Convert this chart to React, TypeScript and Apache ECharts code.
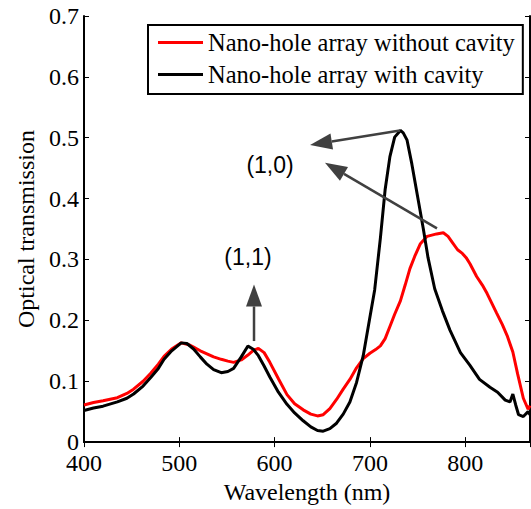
import React, { useEffect, useRef } from "react";
import * as echarts from "echarts";

// Wavelength (nm) and optical transmission
const redWavelength = [400, 410, 420, 435, 445, 452, 462, 470, 478, 484, 492, 502, 510, 515, 522, 529, 536, 544, 551, 557, 565, 572, 578, 583, 589, 595, 604, 613, 621, 630, 638, 645, 651, 658, 665, 672, 679, 686, 693, 700, 706, 711, 716, 721, 726, 732, 737, 742, 747, 753, 760, 765, 770, 777, 782, 787, 792, 797, 801, 805, 812, 818, 823, 828, 833, 839, 844, 850, 855, 861, 866, 868];
const redValues = [0.061, 0.065, 0.068, 0.073, 0.080, 0.087, 0.100, 0.113, 0.128, 0.141, 0.153, 0.163, 0.160, 0.156, 0.150, 0.145, 0.140, 0.136, 0.133, 0.131, 0.135, 0.143, 0.151, 0.154, 0.147, 0.131, 0.104, 0.078, 0.063, 0.053, 0.046, 0.043, 0.045, 0.055, 0.070, 0.087, 0.103, 0.122, 0.137, 0.146, 0.152, 0.158, 0.170, 0.190, 0.210, 0.232, 0.258, 0.285, 0.305, 0.326, 0.338, 0.340, 0.342, 0.344, 0.338, 0.327, 0.316, 0.310, 0.303, 0.293, 0.272, 0.258, 0.244, 0.228, 0.212, 0.193, 0.175, 0.148, 0.112, 0.072, 0.054, 0.060];

const blackWavelength = [400, 410, 420, 435, 445, 452, 462, 470, 478, 484, 492, 502, 508, 515, 522, 529, 536, 544, 551, 557, 565, 572, 578, 583, 589, 595, 604, 613, 621, 630, 638, 645, 651, 658, 665, 672, 679, 686, 693, 700, 705, 711, 716, 721, 726, 732, 735, 739, 744, 750, 756, 761, 768, 776, 784, 795, 805, 815, 826, 834, 842, 847, 850, 853, 856, 861, 866, 868];
const blackValues = [0.052, 0.056, 0.059, 0.066, 0.072, 0.079, 0.092, 0.106, 0.121, 0.136, 0.150, 0.163, 0.162, 0.153, 0.140, 0.128, 0.119, 0.114, 0.116, 0.121, 0.140, 0.158, 0.152, 0.142, 0.125, 0.107, 0.082, 0.062, 0.048, 0.035, 0.025, 0.019, 0.018, 0.022, 0.031, 0.046, 0.066, 0.098, 0.142, 0.205, 0.250, 0.335, 0.415, 0.469, 0.501, 0.512, 0.508, 0.496, 0.457, 0.404, 0.351, 0.303, 0.252, 0.216, 0.184, 0.147, 0.126, 0.103, 0.090, 0.082, 0.069, 0.066, 0.079, 0.061, 0.045, 0.042, 0.050, 0.045];

const seriesNames = ["Nano-hole array without cavity", "Nano-hole array with cavity"];

// Annotation arrows in data coordinates: [start, tip]
const arrowStarts = [[731.6, 0.512], [770.4, 0.351], [578.4, 0.166]];
const arrowTips = [[637.2, 0.488], [652.9, 0.459], [578.4, 0.259]];
const labelTexts = ["(1,0)", "(1,1)"];
const labelPositions = [[595.2, 0.455], [572.1, 0.304]];

const SERIF = "'Liberation Serif', 'Times New Roman', serif";

export default function App() {
  const ref = useRef<HTMLDivElement>(null);
  useEffect(() => {
    const chart = echarts.init(ref.current!, undefined, { renderer: "svg" });
    const axisCommon = {
      axisLine: { lineStyle: { color: "#000", width: 2 } },
      axisTick: { inside: true, length: 5, lineStyle: { color: "#000", width: 1 } },
      splitLine: { show: false },
    };
    chart.setOption({
      animation: false,
      backgroundColor: "#fff",
      grid: { left: 84, right: 1, top: 16, bottom: 57, containLabel: false },
      xAxis: [
        {
          type: "value",
          min: 400,
          max: 868,
          interval: 100,
          name: "Wavelength (nm)",
          nameLocation: "middle",
          nameGap: 36,
          nameTextStyle: { fontFamily: SERIF, fontSize: 24, color: "#000" },
          ...axisCommon,
          axisLabel: {
            margin: 9,
            fontFamily: SERIF,
            fontSize: 24,
            color: "#000",
            showMaxLabel: false,
            formatter: (v: number) => (v % 100 === 0 ? String(v) : ""),
          },
        },
        {
          type: "value",
          position: "top",
          min: 400,
          max: 868,
          interval: 100,
          ...axisCommon,
          axisLabel: { show: false },
        },
      ],
      yAxis: [
        {
          type: "value",
          min: 0,
          max: 0.7,
          interval: 0.1,
          name: "Optical transmission",
          nameLocation: "middle",
          nameGap: 45,
          nameTextStyle: { fontFamily: SERIF, fontSize: 24, color: "#000" },
          ...axisCommon,
          axisLabel: {
            margin: 5,
            fontFamily: SERIF,
            fontSize: 24,
            lineHeight: 16,
            color: "#000",
            formatter: (v: number) => (v === 0 ? "0" : v.toFixed(1)),
          },
        },
        {
          type: "value",
          position: "right",
          min: 0,
          max: 0.7,
          interval: 0.1,
          ...axisCommon,
          axisLabel: { show: false },
        },
      ],
      legend: {
        orient: "vertical",
        left: 148,
        top: 25,
        backgroundColor: "#fff",
        borderColor: "#000",
        borderWidth: 2,
        borderRadius: 0,
        padding: [5, 8, 7, 10],
        itemGap: 7,
        itemWidth: 45,
        itemHeight: 3,
        icon: "rect",
        textStyle: { fontFamily: SERIF, fontSize: 24.5, color: "#000", lineHeight: 24 },
        data: seriesNames,
      },
      series: [
        {
          name: seriesNames[0],
          type: "line",
          showSymbol: false,
          symbol: "none",
          color: "#ff0000",
          lineStyle: { color: "#ff0000", width: 3 },
          data: redWavelength.map((w, i) => [w, redValues[i]]),
          z: 3,
        },
        {
          name: seriesNames[1],
          type: "line",
          showSymbol: false,
          symbol: "none",
          color: "#000000",
          lineStyle: { color: "#000000", width: 3 },
          data: blackWavelength.map((w, i) => [w, blackValues[i]]),
          z: 4,
        },
      ],
    });

    const toPx = (p: number[]) => chart.convertToPixel({ gridIndex: 0 }, p) as number[];
    const graphics: any[] = [];
    const arrowColor = "#404040";
    arrowStarts.forEach((s, i) => {
      const S = toPx(s);
      const T = toPx(arrowTips[i]);
      const dx = T[0] - S[0];
      const dy = T[1] - S[1];
      const len = Math.hypot(dx, dy);
      const ux = dx / len;
      const uy = dy / len;
      const L = 22;
      const W = 8;
      const bx = T[0] - ux * L;
      const by = T[1] - uy * L;
      graphics.push({
        type: "line",
        shape: { x1: S[0], y1: S[1], x2: bx, y2: by },
        style: { stroke: arrowColor, lineWidth: 2.5 },
        z: 10,
      });
      graphics.push({
        type: "polygon",
        shape: { points: [[T[0], T[1]], [bx - uy * W, by + ux * W], [bx + uy * W, by - ux * W]] },
        style: { fill: arrowColor },
        z: 10,
      });
    });
    labelTexts.forEach((t, i) => {
      const P = toPx(labelPositions[i]);
      graphics.push({
        type: "text",
        x: P[0],
        y: P[1],
        style: {
          text: t,
          fontFamily: "'Liberation Sans', Arial, sans-serif",
          fontSize: 23,
          fill: "#000",
          align: "center",
          verticalAlign: "middle",
        },
        z: 10,
      });
    });
    chart.setOption({ graphic: graphics });

    return () => chart.dispose();
  }, []);

  return (
    <div
      ref={ref}
      style={{ position: "fixed", left: 0, top: 0, width: 531, height: 509 }}
    />
  );
}
